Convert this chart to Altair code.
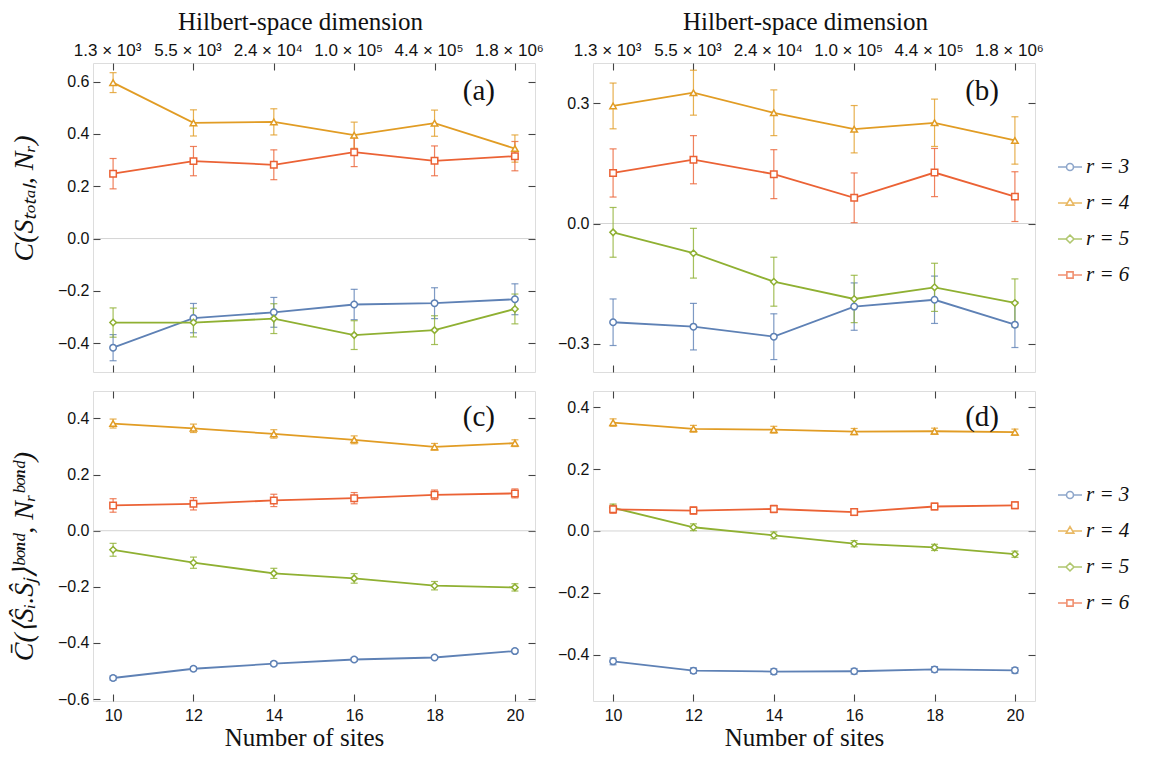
import altair as alt
import pandas as pd

# ---------------- data ----------------
sites = [10, 12, 14, 16, 18, 20]
hilbert_labels = ["1.3 × 10³", "5.5 × 10³", "2.4 × 10⁴", "1.0 × 10⁵", "4.4 × 10⁵", "1.8 × 10⁶"]
series = ["r = 3", "r = 4", "r = 5", "r = 6"]
colors = ["#5e81b5", "#e19c24", "#8fb032", "#eb6235"]
shapes = ["circle", "triangle-up", "diamond", "square"]

# panel (a)
a_r3 = [-0.417, -0.304, -0.282, -0.252, -0.247, -0.232]
a_r4 = [0.596, 0.442, 0.446, 0.395, 0.441, 0.344]
a_r5 = [-0.321, -0.321, -0.306, -0.369, -0.350, -0.269]
a_r6 = [0.248, 0.296, 0.282, 0.330, 0.297, 0.315]
a_e3 = [0.050, 0.056, 0.057, 0.058, 0.059, 0.059]
a_e4 = [0.038, 0.050, 0.050, 0.050, 0.050, 0.052]
a_e5 = [0.056, 0.055, 0.057, 0.055, 0.055, 0.057]
a_e6 = [0.058, 0.056, 0.057, 0.055, 0.057, 0.056]

# panel (b)
b_r3 = [-0.246, -0.257, -0.282, -0.207, -0.190, -0.252]
b_r4 = [0.293, 0.326, 0.276, 0.235, 0.251, 0.207]
b_r5 = [-0.022, -0.074, -0.145, -0.188, -0.159, -0.198]
b_r6 = [0.126, 0.159, 0.123, 0.064, 0.127, 0.067]
b_e3 = [0.058, 0.058, 0.057, 0.059, 0.059, 0.057]
b_e4 = [0.057, 0.056, 0.057, 0.059, 0.059, 0.059]
b_e5 = [0.062, 0.062, 0.061, 0.059, 0.060, 0.060]
b_e6 = [0.060, 0.060, 0.061, 0.062, 0.060, 0.062]

# panel (c)
c_r3 = [-0.525, -0.492, -0.474, -0.459, -0.452, -0.429]
c_r4 = [0.382, 0.365, 0.345, 0.324, 0.299, 0.312]
c_r5 = [-0.068, -0.114, -0.152, -0.170, -0.196, -0.202]
c_r6 = [0.090, 0.096, 0.108, 0.116, 0.128, 0.133]
c_e3 = [0.008, 0.007, 0.007, 0.007, 0.006, 0.006]
c_e4 = [0.016, 0.015, 0.015, 0.014, 0.012, 0.012]
c_e5 = [0.023, 0.020, 0.018, 0.017, 0.015, 0.013]
c_e6 = [0.024, 0.022, 0.022, 0.020, 0.017, 0.016]

# panel (d)
d_r3 = [-0.421, -0.451, -0.454, -0.453, -0.447, -0.450]
d_r4 = [0.350, 0.330, 0.327, 0.321, 0.322, 0.319]
d_r5 = [0.075, 0.012, -0.014, -0.041, -0.053, -0.075]
d_r6 = [0.070, 0.066, 0.071, 0.061, 0.079, 0.083]
d_e3 = [0.011, 0.009, 0.009, 0.009, 0.009, 0.009]
d_e4 = [0.012, 0.011, 0.011, 0.010, 0.010, 0.010]
d_e5 = [0.012, 0.011, 0.011, 0.010, 0.010, 0.010]
d_e6 = [0.013, 0.012, 0.012, 0.011, 0.011, 0.011]

top_ytitle = "C(Sₜₒₜₐₗ, Nᵣ)"
bot_ytitle = "C̄(⟨Ŝᵢ.Ŝⱼ⟩ᵇᵒⁿᵈ, Nᵣᵇᵒⁿᵈ)"

# legend symbols: line segment with open marker
legend_paths = [
    "M-1,0H-0.29M0.29,0H1M0.29,0A0.29,0.29,0,1,1,-0.29,0A0.29,0.29,0,1,1,0.29,0Z",
    "M-1,0H-0.21M0.21,0H1M0,-0.36L0.32,0.18L-0.32,0.18Z",
    "M-1,0H-0.33M0.33,0H1M0,-0.33L0.33,0L0,0.33L-0.33,0Z",
    "M-1,0H-0.26M0.26,0H1M-0.26,-0.26H0.26V0.26H-0.26Z",
]


def make_df(vals, errs):
    rows = []
    for s, v, e in zip(series, vals, errs):
        for n, y, er in zip(sites, v, e):
            rows.append({"n": n, "r": s, "val": y, "lo": y - er, "hi": y + er})
    return pd.DataFrame(rows)


SANS = "Liberation Sans"
SERIF = "Liberation Serif"
TICK = "#444444"
W = 442

top_expr = ("[" + ",".join("'" + l + "'" for l in hilbert_labels) + "][indexof(["
            + ",".join(str(s) for s in sites) + "], datum.value)]")


def ax(orient, values, labels=True, title=None, **kw):
    opts = dict(domain=False, grid=False, ticks=True, tickSize=7, offset=-7,
                tickColor=TICK, tickWidth=1.1,
                labelFont=SANS, labelFontSize=16, labelColor="#111111",
                titleFont=SERIF, titleFontSize=25, titleFontWeight="normal",
                titleColor="#111111")
    opts.update(kw)
    return alt.Axis(orient=orient, values=values, labels=labels, title=title, **opts)


def panel(df, ydom, yticks, ytitle, title_y, top_row, title_x, tag, tag_x, tag_y, h):
    xs = alt.Scale(domain=[9.5, 20.5], nice=False, zero=False)
    ys = alt.Scale(domain=ydom, nice=False, zero=False)
    col = alt.Color("r:N", scale=alt.Scale(domain=series, range=colors), legend=None)
    base = alt.Chart(df)

    zero = alt.Chart(pd.DataFrame({"v": [0]})).mark_rule(
        color="#d4d4d4", strokeWidth=1).encode(y=alt.Y("v:Q", scale=ys, axis=None))

    if top_row:
        xbottom = ax("bottom", sites, labels=False)
        xtop = ax("top", sites, labels=True, title="Hilbert-space dimension",
                  labelExpr=top_expr, labelPadding=4, labelFontSize=17, labelOffset=-6,
                  titlePadding=7, titleX=title_x)
    else:
        xbottom = ax("bottom", sites, labels=True, title="Number of sites",
                     labelPadding=6, titlePadding=2, titleX=title_x)
        xtop = ax("top", sites, labels=False)

    yleft_kw = dict(format=".1f", labelPadding=4)
    if ytitle:
        yleft_kw.update(titleFontStyle="italic", titlePadding=19, titleFontSize=28,
                        titleY=title_y, titleAlign="center")
    yleft = ax("left", yticks, labels=True, title=ytitle, **yleft_kw)
    yright = ax("right", yticks, labels=False)

    err = base.mark_errorbar(ticks=True, size=7, thickness=1.2, opacity=0.8).encode(
        x=alt.X("n:Q", scale=xs, axis=xbottom),
        y=alt.Y("lo:Q", scale=ys, axis=yleft),
        y2="hi:Q",
        color=col,
    )
    line = base.mark_line(strokeWidth=1.8).encode(
        x=alt.X("n:Q", scale=xs, axis=xtop),
        y=alt.Y("val:Q", scale=ys, axis=yright),
        color=col,
    )
    pts = base.mark_point(filled=False, fill="white", fillOpacity=1, size=42,
                          strokeWidth=1.5, opacity=1).encode(
        x=alt.X("n:Q", scale=xs, axis=None),
        y=alt.Y("val:Q", scale=ys, axis=None),
        color=col,
        shape=alt.Shape("r:N", scale=alt.Scale(domain=series, range=shapes), legend=None),
    )
    label = alt.Chart(pd.DataFrame({"t": [tag]})).mark_text(
        font=SERIF, fontSize=29, align="right", baseline="middle", color="#111111"
    ).encode(text="t:N", x=alt.value(tag_x), y=alt.value(tag_y))

    return alt.layer(zero, err, line, pts, label).resolve_axis(
        x="independent", y="independent").properties(width=W, height=h)


def legend_chart(h, ly):
    leg = alt.Legend(orient="none", legendX=-36, legendY=ly, title=None,
                     symbolSize=576, symbolStrokeWidth=1.6, symbolFillColor="transparent",
                     labelFont=SERIF, labelFontSize=21, labelFontStyle="italic",
                     labelColor="#111111", labelOffset=3, rowPadding=13)
    return alt.Chart(pd.DataFrame({"r": series})).transform_filter("false").mark_point(
        filled=False, strokeWidth=1.6).encode(
        color=alt.Color("r:N", scale=alt.Scale(domain=series, range=colors), legend=leg),
        shape=alt.Shape("r:N", scale=alt.Scale(domain=series, range=legend_paths), legend=leg),
    ).properties(width=1, height=h)


pa = panel(make_df([a_r3, a_r4, a_r5, a_r6], [a_e3, a_e4, a_e5, a_e6]),
           [-0.51, 0.671], [-0.4, -0.2, 0.0, 0.2, 0.4, 0.6], top_ytitle, 135,
           True, 207, "(a)", 402, 28, 309)
pb = panel(make_df([b_r3, b_r4, b_r5, b_r6], [b_e3, b_e4, b_e5, b_e6]),
           [-0.37, 0.40], [-0.3, 0.0, 0.3], None, 0, True, 212, "(b)", 406, 28, 309)
pc = panel(make_df([c_r3, c_r4, c_r5, c_r6], [c_e3, c_e4, c_e5, c_e6]),
           [-0.607, 0.498], [-0.6, -0.4, -0.2, 0.0, 0.2, 0.4], bot_ytitle, 165,
           False, 211, "(c)", 402, 26, 310)
pd_ = panel(make_df([d_r3, d_r4, d_r5, d_r6], [d_e3, d_e4, d_e5, d_e6]),
            [-0.549, 0.452], [-0.4, -0.2, 0.0, 0.2, 0.4], None, 0, False, 211,
            "(d)", 406, 26, 310)

chart = alt.concat(
    pa, pb, legend_chart(309, 91), pc, pd_, legend_chart(310, 91),
    columns=3, spacing={"row": 19, "column": 58}, bounds="flush",
).resolve_scale(
    color="independent", shape="independent"
).properties(padding={"left": 1, "top": 0, "right": 5, "bottom": 5}).configure_view(
    stroke="#666666", strokeWidth=1.2
).configure(background="white")

chart.save("out.html", embed_options={"renderer": "svg", "actions": False})
